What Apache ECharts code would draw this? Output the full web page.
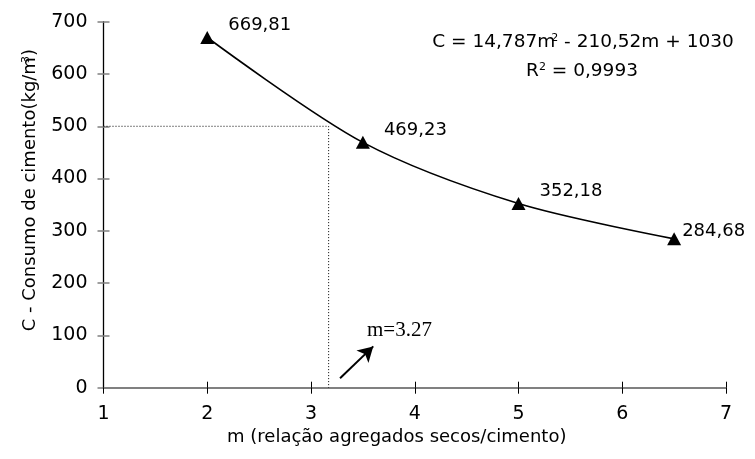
<!DOCTYPE html>
<html>
<head>
<meta charset="utf-8">
<script src="https://cdn.jsdelivr.net/npm/echarts@6/dist/echarts.min.js"></script>
<style>html,body{margin:0;padding:0;background:#fff}#c{width:755px;height:459px}</style>
</head>
<body>
<div id="c"></div>
<script>
// ---- data ----
const mValues = [2, 3.5, 5, 6.5];
const cValues = [669.81, 469.23, 352.18, 284.68];
const xMin = 1, xMax = 7, xStep = 1;
const yMin = 0, yMax = 700, yStep = 100;
const guideX = [1, 3.17, 3.17];
const guideY = [500, 500, 0];
const arrowX = [3.28, 3.6];
const arrowY = [18, 79];
const xTitle = 'm (relação agregados secos/cimento)';
const equationText = 'C = 14,787m{sup|2} - 210,52m + 1030';
const r2Text = 'R{sup|2} = 0,9993';
const mNote = 'm=3.27';

const FONT = 'DejaVu Sans';
const chart = echarts.init(document.getElementById('c'), null, {renderer: 'canvas'});
const fmt = v => v.toFixed(2).replace('.', ',');

const lastIdx = mValues.length - 1;
const pointData = mValues.map((m, i) => {
  const item = {value: [m, cValues[i]]};
  if (i === lastIdx) item.label = {offset: [-13, -8]};
  return item;
});

chart.setOption({
  animation: false,
  backgroundColor: '#fff',
  grid: {left: 103.5, right: 29, top: 21.7, bottom: 71.3, containLabel: false},
  xAxis: [{
    type: 'value', min: xMin, max: xMax, interval: xStep, position: 'bottom',
    name: xTitle, nameLocation: 'middle', nameGap: 40,
    nameTextStyle: {fontFamily: FONT, fontSize: 18, color: '#000', padding: [0, 36, 0, 0]},
    axisLine: {show: true, onZero: false, lineStyle: {color: '#808080', width: 2}},
    axisTick: {show: true, length: 6, lineStyle: {color: '#000', width: 1}},
    axisLabel: {fontFamily: FONT, fontSize: 19, color: '#000', margin: 17},
    splitLine: {show: false}
  }, {
    type: 'value', min: xMin, max: xMax, interval: xStep, position: 'bottom',
    axisLine: {show: false},
    axisTick: {show: true, inside: true, length: 6, lineStyle: {color: '#000', width: 1}},
    axisLabel: {show: false}, splitLine: {show: false}
  }],
  yAxis: [{
    type: 'value', min: yMin, max: yMax, interval: yStep, position: 'left',
    name: 'C - Consumo de cimento(kg/m{sup|3})', nameLocation: 'middle', nameGap: 64, nameRotate: 90,
    nameTextStyle: {fontFamily: FONT, fontSize: 18, color: '#000', padding: [0, 0, 0, 29],
      rich: {sup: {fontFamily: FONT, fontSize: 11, verticalAlign: 'top', color: '#000', padding: [0, 0, 8, -6]}}},
    axisLine: {show: true, onZero: false, lineStyle: {color: '#000', width: 1.3}},
    axisTick: {show: true, length: 6, lineStyle: {color: '#808080', width: 1.5}},
    axisLabel: {fontFamily: FONT, fontSize: 19, color: '#000', margin: 16},
    splitLine: {show: false}
  }, {
    type: 'value', min: yMin, max: yMax, interval: yStep, position: 'left',
    axisLine: {show: false},
    axisTick: {show: true, inside: true, length: 6, lineStyle: {color: '#808080', width: 1.5}},
    axisLabel: {show: false}, splitLine: {show: false}
  }],
  series: [{
    type: 'line',
    data: guideX.map((x, i) => [x, guideY[i]]),
    symbol: 'none',
    lineStyle: {color: '#000', width: 1, type: [1, 2]},
    silent: true, z: 1
  }, {
    type: 'line',
    data: pointData,
    smooth: 0.3,
    symbol: 'triangle', symbolSize: [14, 13],
    itemStyle: {color: '#000'},
    lineStyle: {color: '#000', width: 1.6},
    label: {show: true, position: 'right', distance: 14, offset: [0, -12],
      formatter: p => fmt(p.value[1]), fontFamily: FONT, fontSize: 18, color: '#000'},
    z: 3
  }, {
    type: 'line',
    data: [],
    markLine: {
      silent: true, animation: false,
      symbol: ['none', 'arrow'], symbolSize: [13, 15],
      label: {show: false},
      lineStyle: {color: '#000', width: 2, type: 'solid'},
      data: [[{coord: [arrowX[0], arrowY[0]]}, {coord: [arrowX[1], arrowY[1]]}]]
    }
  }],
  graphic: [{
    type: 'text', x: 583, y: 42,
    style: {text: equationText, font: '18.5px "' + FONT + '"', fill: '#000', textAlign: 'center', textVerticalAlign: 'middle',
      rich: {sup: {fontSize: 11, fontFamily: FONT, fill: '#000', verticalAlign: 'top', padding: [0, 0, 8, -4]}}}
  }, {
    type: 'text', x: 582, y: 71,
    style: {text: r2Text, font: '18.5px "' + FONT + '"', fill: '#000', textAlign: 'center', textVerticalAlign: 'middle',
      rich: {sup: {fontSize: 11, fontFamily: FONT, fill: '#000', verticalAlign: 'top', padding: [0, 0, 8, 0]}}}
  }, {
    type: 'text', x: 367, y: 330,
    style: {text: mNote, font: '21px "Liberation Serif"', fill: '#000', textAlign: 'left', textVerticalAlign: 'middle'}
  }]
});
</script>
</body>
</html>
